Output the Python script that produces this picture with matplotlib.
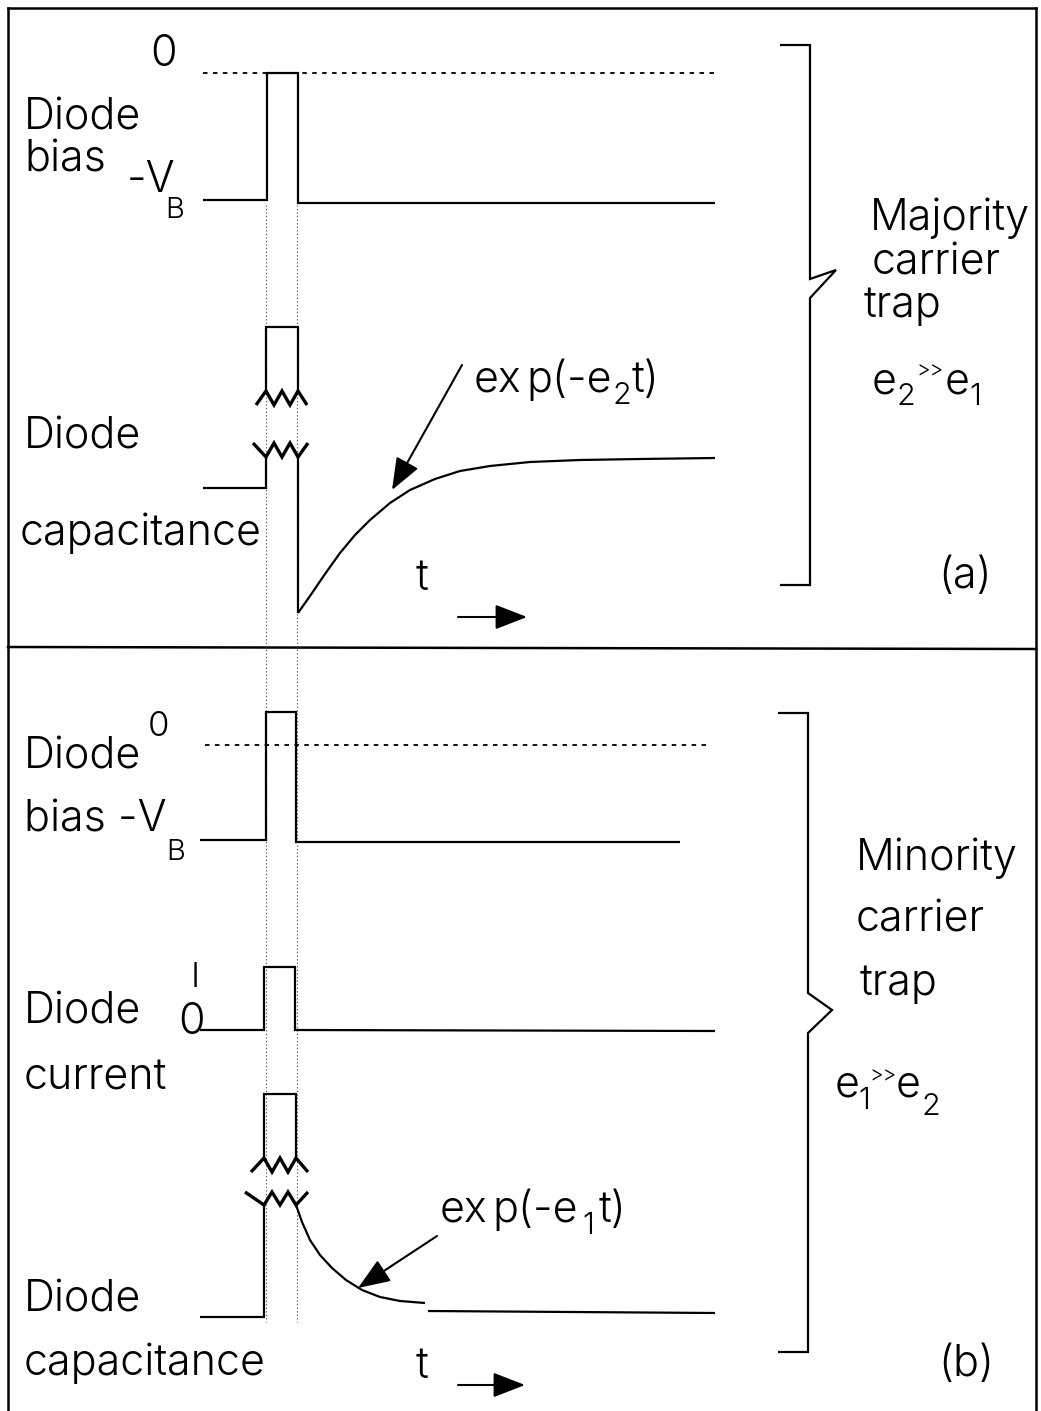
import matplotlib
matplotlib.use("Agg")
import matplotlib.pyplot as plt

plt.rcParams['font.family'] = ['Inter', 'DejaVu Sans']
plt.rcParams['font.weight'] = 300

# ---------------- waveforms, panel (a): majority-carrier trap ----------------
a_zero_t = [203, 715]
a_zero_v = [73, 73]
a_bias_t = [203, 267, 267, 298, 298, 715]
a_bias_v = [200, 200, 73, 73, 203, 203]

a_cap_block_t = [266, 266, 298, 298]
a_cap_block_v = [391, 327, 327, 391]
a_break_hi_t = [256, 266, 274, 282, 290, 298, 307]
a_break_hi_v = [405, 391, 405, 391, 405, 391, 405]
a_break_lo_t = [253, 266, 274, 282, 290, 298, 308]
a_break_lo_v = [443, 457, 443, 457, 443, 457, 443]
a_cap_pre_t = [203, 266, 266]
a_cap_pre_v = [488, 488, 457]
a_cap_drop_t = [298, 298]
a_cap_drop_v = [457, 613]
a_recovery_t = [298, 310, 325, 340, 355, 370, 390, 410, 435, 460, 490, 530, 580, 640, 715]
a_recovery_v = [613, 596, 574, 553, 535, 520, 503, 490, 479, 471, 466, 462, 460, 459, 458]

# ---------------- waveforms, panel (b): minority-carrier trap ----------------
b_zero_t = [205, 710]
b_zero_v = [745, 745]
b_bias_t = [200, 266, 266, 296, 296, 680]
b_bias_v = [840, 840, 712, 712, 842, 842]

b_curr_t = [200, 264, 264, 295, 295, 715]
b_curr_v = [1030, 1030, 967, 967, 1030, 1031]

b_cap_block_t = [264, 264, 296, 296]
b_cap_block_v = [1158, 1094, 1094, 1158]
b_break_hi_t = [251, 264, 272, 280, 288, 296, 308]
b_break_hi_v = [1172, 1158, 1172, 1158, 1172, 1158, 1172]
b_break_lo_t = [245, 264, 272, 280, 288, 296, 308]
b_break_lo_v = [1192, 1205, 1192, 1205, 1192, 1205, 1192]
b_cap_pre_t = [200, 264, 264]
b_cap_pre_v = [1317, 1317, 1205]
b_decay_t = [296, 302, 310, 320, 332, 346, 362, 380, 400, 425]
b_decay_v = [1205, 1222, 1240, 1255, 1268, 1280, 1290, 1297, 1301, 1303]
b_tail_t = [428, 715]
b_tail_v = [1311, 1313]

# pulse-edge guide lines
guide_t = [266, 297]
guide_span = [205, 1322]

# braces grouping each panel
brace_a_t = [780, 810, 810, 836, 810, 810, 780]
brace_a_v = [45, 45, 279, 270, 298, 585, 585]
brace_b_t = [778, 808, 808, 832, 808, 808, 778]
brace_b_v = [713, 713, 993, 1010, 1033, 1352, 1352]

fig = plt.figure(figsize=(10.41, 14.11), dpi=100)
ax = fig.add_axes([0, 0, 1, 1])
ax.set_xlim(0, 1041)
ax.set_ylim(1411, 0)
ax.axis('off')
renderer = fig.canvas.get_renderer()

LW = 1.6
K = 'black'
FS = 31


def solid(t, v, lw=LW):
    ax.plot(t, v, color=K, lw=lw, solid_joinstyle='miter', solid_capstyle='butt')


def label(x, y, s, size=FS):
    return ax.text(x, y, s, color=K, fontsize=size, va='center', ha='left')


def runs(x, y, pieces):
    """Write consecutive text pieces: (string, size, vertical offset, gap after)."""
    for s, size, dy, gap in pieces:
        t = label(x, y + dy, s, size)
        x += t.get_window_extent(renderer).width + gap


# outer frame and panel divider
ax.plot([8, 8], [8, 1411], color=K, lw=1.8)
ax.plot([1036, 1036], [8, 1411], color=K, lw=1.8)
ax.plot([8, 1036], [8, 8], color=K, lw=1.8)
ax.plot([8, 1036], [647, 649], color=K, lw=1.8)

# dotted guides at the pulse edges
for g in guide_t:
    ax.plot([g, g], guide_span, color='#444444', lw=0.8, ls=(0, (1, 2.2)))

# zero-bias reference levels
ax.plot(a_zero_t, a_zero_v, color=K, lw=1.3, ls=(0, (2.5, 3)))
ax.plot(b_zero_t, b_zero_v, color=K, lw=1.3, ls=(0, (2.5, 3)))

# panel (a) traces
solid(a_bias_t, a_bias_v)
solid(a_cap_block_t, a_cap_block_v)
solid(a_break_hi_t, a_break_hi_v, lw=2.4)
solid(a_break_lo_t, a_break_lo_v, lw=2.4)
solid(a_cap_pre_t, a_cap_pre_v)
solid(a_cap_drop_t, a_cap_drop_v)
solid(a_recovery_t, a_recovery_v)

# panel (b) traces
solid(b_bias_t, b_bias_v)
solid(b_curr_t, b_curr_v)
solid(b_cap_block_t, b_cap_block_v)
solid(b_break_hi_t, b_break_hi_v, lw=2.4)
solid(b_break_lo_t, b_break_lo_v, lw=2.4)
solid(b_cap_pre_t, b_cap_pre_v)
solid(b_decay_t, b_decay_v)
solid(b_tail_t, b_tail_v)

solid(brace_a_t, brace_a_v)
solid(brace_b_t, brace_b_v)

arrow_kw = dict(arrowstyle='-|>,head_length=0.9,head_width=0.35', color=K, lw=1.5,
                shrinkA=0, shrinkB=0, mutation_scale=22)
ax.annotate('', xy=(392, 490), xytext=(462, 365), arrowprops=arrow_kw)
ax.annotate('', xy=(358, 1288), xytext=(437, 1236), arrowprops=arrow_kw)
ax.annotate('', xy=(527, 617), xytext=(458, 617), arrowprops=arrow_kw)
ax.annotate('', xy=(525, 1385), xytext=(458, 1385), arrowprops=arrow_kw)

# panel (a) labels
label(150, 55, '0')
label(24, 118, 'Diode')
label(24, 160, 'bias')
label(127, 180, '-V')
label(165, 211, 'B', 21)
label(24, 437, 'Diode')
label(20, 533, 'capacitance')
runs(474, 380, [('ex', FS, 0, 5), ('p(-e', FS, 0, 0), ('2', 22, 16, 1), ('t)', FS, 0, 0)])
label(416, 578, 't')
label(870, 218, 'Majority')
label(872, 263, 'carrier')
label(864, 306, 'trap')
runs(872, 382, [('e', FS, 0, 0), ('2', 22, 15, 1), ('>>', 15, -12, 1), ('e', FS, 0, 0),
                ('1', 22, 15, 0)])
label(938, 577, '(a)')

# panel (b) labels
label(148, 727, '0', 25)
label(24, 757, 'Diode')
label(24, 820, 'bias -V')
label(166, 852, 'B', 21)
label(191, 978, 'I', 25)
label(178, 1022, '0')
label(24, 1012, 'Diode')
label(24, 1078, 'current')
label(24, 1300, 'Diode')
label(24, 1363, 'capacitance')
runs(440, 1210, [('ex', FS, 0, 5), ('p(-e', FS, 0, 4), ('1', 22, 16, 4), ('t)', FS, 0, 0)])
label(416, 1366, 't')
label(856, 858, 'Minority')
label(856, 920, 'carrier')
label(860, 983, 'trap')
runs(835, 1085, [('e', FS, 0, -2), ('1', 22, 16, -1), ('>>', 15, -10, 0), ('e', FS, 0, 1),
                 ('2', 22, 22, 0)])
label(938, 1365, '(b)')

fig.savefig('out.png', dpi=100, facecolor='white')
